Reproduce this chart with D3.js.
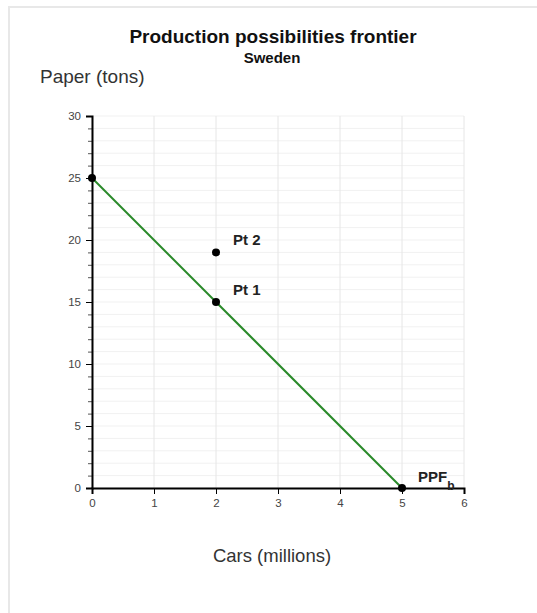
<!DOCTYPE html>
<html>
<head>
<meta charset="utf-8">
<script src="https://cdn.jsdelivr.net/npm/d3@7"></script>
<style>
	body { margin: 0; background: #fff; font-family: "Liberation Sans", Arial, sans-serif; }
	svg { display: block; }
</style>
</head>
<body>
<svg id="chart" width="537" height="613"></svg>
<script>
// @ Data
const frontier = [
	{ cars: 0, paper: 25 },
	{ cars: 5, paper: 0 },
];
const points = [
	{ cars: 0, paper: 25, label: "" },
	{ cars: 2, paper: 15, label: "Pt 1" },
	{ cars: 2, paper: 19, label: "Pt 2" },
	{ cars: 5, paper: 0, label: "" },
];
const xTicks = [0, 1, 2, 3, 4, 5, 6];
const yTicks = [0, 5, 10, 15, 20, 25, 30];
const yMinor = d3.range(0, 31, 1);

function drawChart() {
	const svg = d3.select("#chart");

	// card border
	svg.append("path")
		.attr("d", "M9,620 V7 H545")
		.attr("fill", "none")
		.attr("stroke", "#e8e8e8")
		.attr("stroke-width", 2);

	const x = d3.scaleLinear().domain([0, 6]).range([92, 464]);
	const y = d3.scaleLinear().domain([0, 30]).range([488, 116]);

	// @ grid
	const grid = svg.append("g");
	grid.selectAll("line.h")
		.data(yMinor)
		.enter()
		.append("line")
		.attr("x1", x(0))
		.attr("x2", x(6))
		.attr("y1", (d) => y(d))
		.attr("y2", (d) => y(d))
		.attr("stroke", "#f1f1f1")
		.attr("stroke-width", 1);
	grid.selectAll("line.v")
		.data(xTicks)
		.enter()
		.append("line")
		.attr("x1", (d) => x(d))
		.attr("x2", (d) => x(d))
		.attr("y1", y(0))
		.attr("y2", y(30))
		.attr("stroke", "#e6e6e6")
		.attr("stroke-width", 1);

	// @ axes
	const yMinorAxis = svg.append("g")
		.attr("transform", `translate(${x(0)},0)`)
		.call(d3.axisLeft(y).tickValues(yMinor).tickSize(4).tickFormat(""));
	yMinorAxis.select(".domain").remove();
	yMinorAxis.selectAll("line").attr("stroke", "#555");

	const yAxis = svg.append("g")
		.attr("transform", `translate(${x(0)},0)`)
		.call(d3.axisLeft(y).tickValues(yTicks).tickSize(6).tickPadding(5).tickFormat(d3.format("d")));
	yAxis.select(".domain").attr("stroke-width", 2).attr("stroke", "#000");
	yAxis.selectAll("text")
		.style("font-family", "Liberation Sans, Arial, sans-serif")
		.style("font-size", "11.5px")
		.attr("fill", "#444");

	const xAxis = svg.append("g")
		.attr("transform", `translate(0,${y(0)})`)
		.call(d3.axisBottom(x).tickValues(xTicks).tickSize(6).tickPadding(5).tickFormat(d3.format("d")));
	xAxis.select(".domain").attr("stroke-width", 2).attr("stroke", "#000");
	xAxis.selectAll("text")
		.style("font-family", "Liberation Sans, Arial, sans-serif")
		.style("font-size", "11.5px")
		.attr("fill", "#444");

	// @ frontier line
	const line = d3.line()
		.x((d) => x(d.cars))
		.y((d) => y(d.paper));
	svg.append("path")
		.datum(frontier)
		.attr("d", line)
		.attr("fill", "none")
		.attr("stroke", "#2a8a2a")
		.attr("stroke-width", 2);

	// @ points
	svg.selectAll("circle.pt")
		.data(points)
		.enter()
		.append("circle")
		.attr("cx", (d) => x(d.cars))
		.attr("cy", (d) => y(d.paper))
		.attr("r", 4)
		.attr("fill", "#000");

	svg.selectAll("text.pt")
		.data(points.filter((d) => d.label))
		.enter()
		.append("text")
		.attr("x", (d) => x(d.cars) + 17)
		.attr("y", (d) => y(d.paper) - 7)
		.text((d) => d.label)
		.style("font-size", "15px")
		.style("font-weight", "bold")
		.attr("fill", "#222");

	// PPF_b label
	const ppf = svg.append("text")
		.attr("x", x(5) + 16)
		.attr("y", y(0) - 6)
		.style("font-size", "15px")
		.style("font-weight", "bold")
		.attr("fill", "#222");
	ppf.append("tspan").text("PPF");
	ppf.append("tspan").attr("dy", 8).style("font-size", "12px").text("b");

	// @ titles
	svg.append("text")
		.attr("x", 273)
		.attr("y", 43)
		.attr("text-anchor", "middle")
		.style("font-size", "19px")
		.style("font-weight", "bold")
		.attr("fill", "#111")
		.text("Production possibilities frontier");
	svg.append("text")
		.attr("x", 272)
		.attr("y", 63)
		.attr("text-anchor", "middle")
		.style("font-size", "15px")
		.style("font-weight", "bold")
		.attr("fill", "#111")
		.text("Sweden");
	svg.append("text")
		.attr("x", 40)
		.attr("y", 83)
		.style("font-size", "19px")
		.attr("fill", "#333")
		.text("Paper (tons)");
	svg.append("text")
		.attr("x", 272)
		.attr("y", 562)
		.attr("text-anchor", "middle")
		.style("font-size", "18.5px")
		.attr("fill", "#333")
		.text("Cars (millions)");
}

drawChart();
</script>
</body>
</html>
